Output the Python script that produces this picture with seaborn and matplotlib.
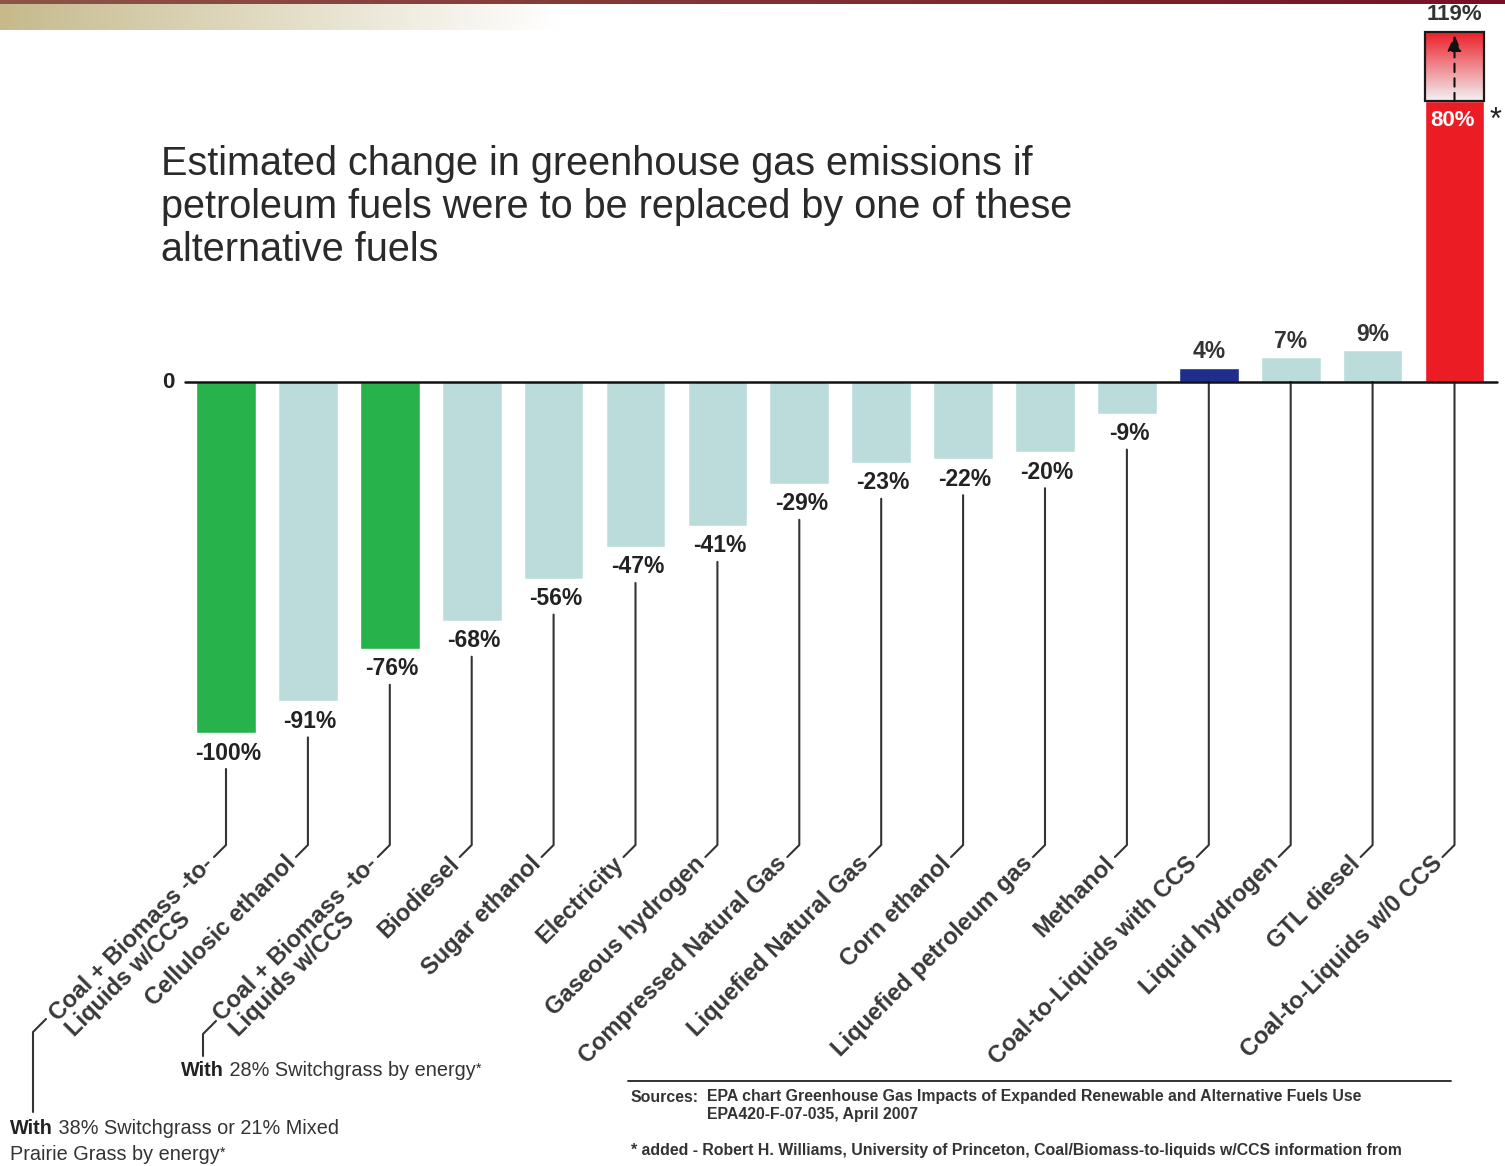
import numpy as np
import pandas as pd
import matplotlib
matplotlib.use("Agg")
import matplotlib.pyplot as plt
import matplotlib.patches as mpatches
import seaborn as sns

# data
fuels = [
    "Coal + Biomass -to-\nLiquids w/CCS",
    "Cellulosic ethanol",
    "Coal + Biomass -to-\nLiquids w/CCS",
    "Biodiesel",
    "Sugar ethanol",
    "Electricity",
    "Gaseous hydrogen",
    "Compressed Natural Gas",
    "Liquefied Natural Gas",
    "Corn ethanol",
    "Liquefied petroleum gas",
    "Methanol",
    "Coal-to-Liquids with CCS",
    "Liquid hydrogen",
    "GTL diesel",
    "Coal-to-Liquids w/0 CCS",
]
change = [-100, -91, -76, -68, -56, -47, -41, -29, -23, -22, -20, -9, 4, 7, 9, 80]
upper_estimate = 119
bar_colors = ["#27b24b", "#bcdcdc", "#27b24b"] + ["#bcdcdc"] * 9 + ["#1f2d8c", "#bcdcdc", "#bcdcdc", "#ec1c24"]

W, H = 1505, 1166
X0, DX = 226, 81.9   # pixel centre of first bar, bar pitch
Y0, DY = 382, 3.51   # pixel of zero line, pixels per percent


def X(px):
    return (px - X0) / DX


def Y(py):
    return (Y0 - py) / DY


sns.set_theme(style="white")
plt.rcParams["font.family"] = ["Liberation Sans", "DejaVu Sans"]

fig = plt.figure(figsize=(W / 100, H / 100), dpi=100)
ax = fig.add_axes([0, 0, 1, 1])

keys = [str(i) for i in range(len(change))]
df = pd.DataFrame({"key": keys, "value": change})
sns.barplot(data=df, x="key", y="value", hue="key", palette=dict(zip(keys, bar_colors)),
            width=0.73, saturation=1, legend=False, errorbar=None, ax=ax, zorder=2)

# header bands
g = np.clip(np.linspace(0, 1, 400) / 0.9, 0, 1)
tan = np.array([198, 186, 140]) / 255
band = tan[None, :] * (1 - g)[:, None] + g[:, None]
ax.imshow(band[None, :, :], extent=(X(0), X(620), Y(30), Y(4)), aspect="auto", zorder=0)
t = np.linspace(0, 1, 400)[:, None]
red = (np.array([140, 85, 72]) / 255) * (1 - t) + (np.array([118, 16, 34]) / 255) * t
ax.imshow(red[None, :, :], extent=(X(0), X(W), Y(4), Y(0)), aspect="auto", zorder=0)

# upper estimate box on the last bar
last = len(change) - 1
hw = 0.73 / 2
s = np.linspace(0, 1, 200)[:, None]
grad = (np.array([236, 28, 36]) / 255) * (1 - s) + (np.array([242, 242, 246]) / 255) * s
top_val = Y(32)
ax.imshow(grad[:, None, :], extent=(last - hw, last + hw, change[-1], top_val), aspect="auto", zorder=3)
ax.add_patch(mpatches.Rectangle((last - hw, change[-1]), 2 * hw, top_val - change[-1],
                                fill=False, ec="#1a1a1a", lw=1.6, zorder=4))
ax.annotate("", xy=(last, Y(35)), xytext=(last, change[-1]),
            arrowprops=dict(arrowstyle="-|>,head_length=0.8,head_width=0.35", linestyle=(0, (4, 3)),
                            color="#111", lw=1.5, shrinkA=0, shrinkB=0), zorder=5)
ax.text(last, Y(15), f"{upper_estimate}%", ha="center", va="center", fontsize=16,
        fontweight="bold", color="#333")
ax.text(last - 0.02, Y(121), f"{change[-1]}%", ha="center", va="center", fontsize=16,
        fontweight="bold", color="white", zorder=5)
ax.text(X(1496), Y(121), "*", ha="center", va="center", fontsize=22, color="#222")

# zero line
ax.plot([X(185), X(1497)], [0, 0], color="#111", lw=1.8, zorder=5)
ax.text(X(168), 0, "0", ha="center", va="center", fontsize=16, fontweight="bold", color="#222")

# value labels, leaders and category labels
for i, name in enumerate(fuels):
    val = change[i]
    if val < 0:
        ax.annotate(f"{val}%", (i, val), xytext=(2, -20), textcoords="offset pixels",
                    ha="center", va="center", fontsize=16.5, fontweight="bold", color="#222")
        top = val - 36 / DY
    else:
        if i != last:
            ax.annotate(f"{val}%", (i, val), xytext=(0, 16), textcoords="offset pixels",
                        ha="center", va="center", fontsize=16.5, fontweight="bold", color="#333")
        top = 0
    ax.plot([i, i, i - 12 / DX], [top, Y(845), Y(857)], color="#333", lw=1.5, zorder=3)
    ax.text(i - 24 / DX, Y(852), name, rotation=45, rotation_mode="anchor", ha="right", va="top",
            multialignment="left", fontsize=17, fontweight="bold", color="#383838", linespacing=1.0)

# brackets under the two blended-coal labels
ax.plot([X(46), X(33), X(33)], [Y(1019), Y(1032), Y(1112)], color="#333", lw=1.5)
ax.plot([X(216), X(203), X(203)], [Y(1021), Y(1034), Y(1056)], color="#333", lw=1.5)

FS = 14.3


def mixed(px, py, bold, rest, star=True):
    t1 = ax.text(X(px), Y(py), bold, ha="left", va="center", fontsize=FS,
                 fontweight="bold", color="#222")
    t2 = ax.annotate(" " + rest, xy=(1, 0), xycoords=t1, ha="left", va="bottom",
                     fontsize=FS, color="#333")
    if star:
        ax.annotate("*", xy=(1, 1), xycoords=t2, ha="left", va="top", fontsize=10, color="#222")


mixed(181, 1071, "With", "28% Switchgrass by energy")
mixed(10, 1129, "With", "38% Switchgrass or 21% Mixed", star=False)
t3 = ax.text(X(10), Y(1155), "Prairie Grass by energy", ha="left", va="center",
             fontsize=FS, color="#333")
ax.annotate("*", xy=(1, 1), xycoords=t3, ha="left", va="top", fontsize=10, color="#222")

# title
ax.text(X(161), Y(145), "Estimated change in greenhouse gas emissions if\n"
        "petroleum fuels were to be replaced by one of these\nalternative fuels",
        ha="left", va="top", fontsize=28.5, color="#2a2a2a", linespacing=1.16)

# sources
SF = 11.4
ax.plot([X(628), X(1451)], [Y(1081), Y(1081)], color="#222", lw=1.3)
ax.text(X(631), Y(1097), "Sources:", ha="left", va="center", fontsize=SF, fontweight="bold", color="#333")
ax.text(X(707), Y(1097), "EPA chart Greenhouse Gas Impacts of Expanded Renewable and Alternative Fuels Use",
        ha="left", va="center", fontsize=SF, fontweight="bold", color="#333")
ax.text(X(707), Y(1114), "EPA420-F-07-035, April 2007", ha="left", va="center", fontsize=SF,
        fontweight="bold", color="#333")
ax.text(X(631), Y(1150), "* added - Robert H. Williams, University of Princeton, "
        "Coal/Biomass-to-liquids w/CCS information from",
        ha="left", va="center", fontsize=SF, fontweight="bold", color="#333")

ax.set_xlim(X(0), X(W))
ax.set_ylim(Y(H), Y(0))
ax.axis("off")

fig.savefig("out.png", dpi=100)
